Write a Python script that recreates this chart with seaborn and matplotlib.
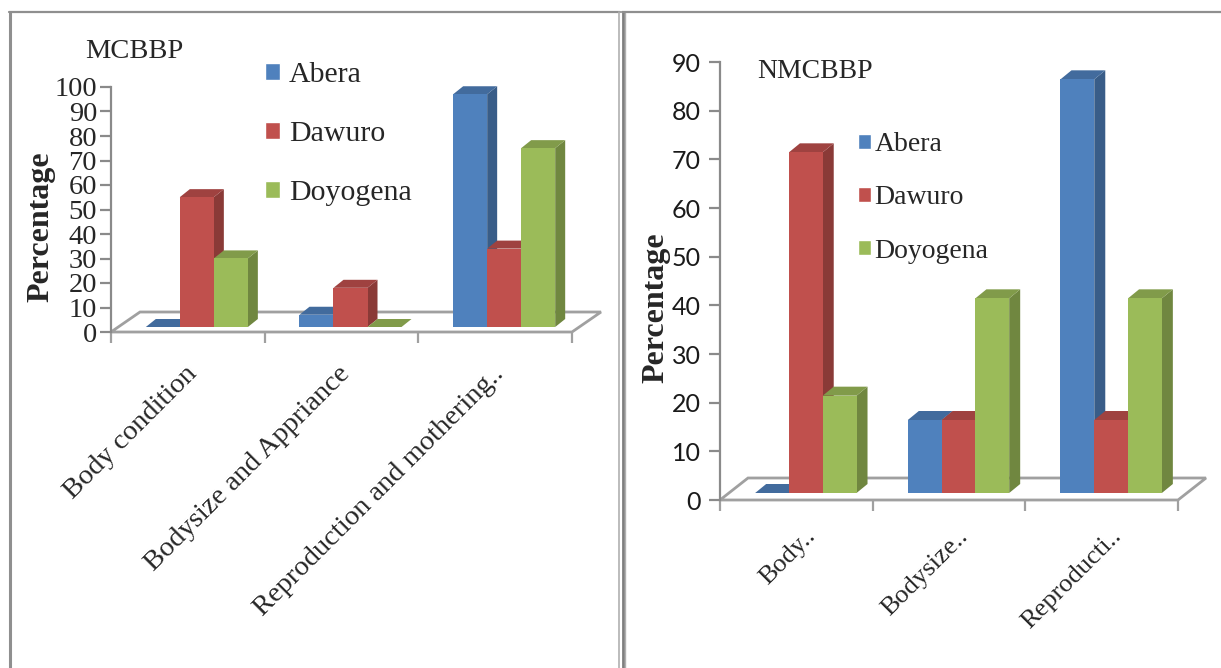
import matplotlib
matplotlib.use("Agg")
import numpy as np
import pandas as pd
import matplotlib.pyplot as plt
import matplotlib.colors as mcolors
import seaborn as sns
from matplotlib.patches import Polygon, Patch
from matplotlib.lines import Line2D
from matplotlib.transforms import ScaledTranslation

# ---- data -----------------------------------------------------------------
breeds = ["Abera", "Dawuro", "Doyogena"]
traits = ["Body condition", "Bodysize and Appriance", "Reproduction and mothering ability"]
mc_ticklabels = ["Body condition", "Bodysize and Appriance", "Reproduction and mothering.."]
nm_ticklabels = ["Body..", "Bodysize..", "Reproducti.."]

mc_abera = [0, 5, 95]
mc_dawuro = [53, 16, 32]
mc_doyogena = [28, 0, 73]

nm_abera = [0, 15, 85]
nm_dawuro = [70, 15, 15]
nm_doyogena = [20, 40, 40]

colors = ["#4F81BD", "#C0504D", "#9BBB59"]

W, H, DPI = 1221, 668, 100
SERIF = "Liberation Serif"


def long_table(a, d, g):
    rows = []
    for breed, vals in zip(breeds, [a, d, g]):
        for t, v in zip(traits, vals):
            rows.append({"trait": t, "breed": breed, "pct": v})
    return pd.DataFrame(rows)


def shade(c, f):
    r, g, b = mcolors.to_rgb(c)
    return (r * f, g * f, b * f)


sns.set_style("white")
plt.rcParams["font.family"] = [SERIF, "DejaVu Sans"]

fig = plt.figure(figsize=(W / DPI, H / DPI), dpi=DPI)
fig.patch.set_facecolor("white")


def px_axes(x0, x1, ytop, ybot):
    return fig.add_axes([x0 / W, 1 - ybot / H, (x1 - x0) / W, (ybot - ytop) / H])


def draw_panel(ax, df, ymax, ystep, wpx, hpx, floor, front, depth):
    ux = wpx / 3.0          # pixels per category unit
    uy = hpx / ymax         # pixels per percentage point
    sns.barplot(data=df, x="trait", y="pct", hue="breed", order=traits,
                hue_order=breeds, palette=colors, saturation=1, width=0.664,
                gap=0, linewidth=0, legend=False, ax=ax, errorbar=None)
    ax.set_xlim(-0.5, 2.5)
    ax.set_ylim(0, ymax)
    bars = sorted(list(ax.patches), key=lambda p: p.get_x())

    fx, fy = front[0] / ux, front[1] / uy
    dx, dy = depth[0] / ux, depth[1] / uy
    shift = ScaledTranslation(front[0] / DPI, front[1] / DPI, fig.dpi_scale_trans)
    for k, p in enumerate(bars):
        col = mcolors.to_rgb(p.get_facecolor())
        z = 3 + k * 0.01
        p.set_transform(ax.transData + shift)
        p.set_zorder(z + 0.005)
        xl = p.get_x() + fx
        xr = p.get_x() + p.get_width() + fx
        h = p.get_height()
        side = [(xr, fy), (xr, h + fy), (xr + dx, h + fy + dy), (xr + dx, fy + dy)]
        top = [(xl, h + fy), (xr, h + fy), (xr + dx, h + fy + dy), (xl + dx, h + fy + dy)]
        ax.add_patch(Polygon(side, closed=True, facecolor=shade(col, 0.72),
                             edgecolor="none", zorder=z, clip_on=False))
        ax.add_patch(Polygon(top, closed=True, facecolor=shade(col, 0.83),
                             edgecolor="none", zorder=z, clip_on=False))

    Fx, Fy = floor[0] / ux, floor[1] / uy
    ax.add_patch(Polygon([(-0.5, 0), (2.5, 0), (2.5 + Fx, Fy), (-0.5 + Fx, Fy)],
                         closed=True, facecolor="white", edgecolor="#a0a0a0",
                         linewidth=2, zorder=1, clip_on=False))

    for s in ["top", "right", "bottom"]:
        ax.spines[s].set_visible(False)
    ax.spines["left"].set_color("#8a8a8a")
    ax.spines["left"].set_linewidth(1.6)
    ax.set_facecolor("none")
    ax.set_yticks(np.arange(0, ymax + 0.1, ystep))
    ax.set_xticks([0, 1, 2])
    ax.set_xticklabels([])
    ax.set_xticks([-0.5, 0.5, 1.5, 2.5], minor=True)
    ax.tick_params(axis="x", which="major", length=0)
    ax.tick_params(axis="x", which="minor", length=8, width=1.6, color="#a0a0a0",
                   direction="out", bottom=True)
    ax.tick_params(axis="y", which="major", length=8, width=1.6, color="#8a8a8a",
                   direction="out", left=True)
    ax.set_xlabel("")
    ax.set_ylabel("")


# ---- left panel: MCBBP ----------------------------------------------------
ax1 = px_axes(111, 572, 87, 332)
draw_panel(ax1, long_table(mc_abera, mc_dawuro, mc_doyogena), 100, 10,
           572 - 111, 332 - 87, floor=(29, 20), front=(9, 5), depth=(10, 8))
for lab in ax1.get_yticklabels():
    lab.set_fontfamily(SERIF)
    lab.set_fontsize(20.5)
ax1.tick_params(axis="y", pad=2)
for i, t in enumerate(mc_ticklabels):
    ax1.annotate(t, xy=(i, 0), xycoords="data", xytext=(5, -38),
                 textcoords="offset pixels", ha="right", va="center",
                 rotation=45, rotation_mode="anchor", fontsize=20.5,
                 family=SERIF, annotation_clip=False)
ax1.legend([Patch(facecolor=c) for c in colors], breeds,
           loc="upper left", bbox_to_anchor=(265 / W, 1 - 62 / H),
           bbox_transform=fig.transFigure, frameon=False,
           prop={"family": SERIF, "size": 21.5}, handlelength=0.5,
           handleheight=0.5, handletextpad=0.3, labelspacing=1.1,
           borderpad=0, borderaxespad=0)
fig.text(85, H - 52, "MCBBP", transform=None, fontsize=20.5, family=SERIF,
         va="center", ha="left")
fig.text(41, H - 227, "Percentage", transform=None, fontsize=23, family=SERIF,
         fontweight="bold", rotation=90, va="center", ha="center")

# ---- right panel: NMCBBP --------------------------------------------------
ax2 = px_axes(720, 1178, 62, 500)
draw_panel(ax2, long_table(nm_abera, nm_dawuro, nm_doyogena), 90, 10,
           1178 - 720, 500 - 62, floor=(28, 22), front=(9.5, 7), depth=(11, 9))
for lab in ax2.get_yticklabels():
    lab.set_fontfamily(["Lato", "DejaVu Sans"])
    lab.set_fontsize(18)
    lab.set_color("#1a1a1a")
ax2.tick_params(axis="y", pad=6)
for i, t in enumerate(nm_ticklabels):
    ax2.annotate(t, xy=(i, 0), xycoords="data", xytext=(16, -33),
                 textcoords="offset pixels", ha="right", va="center",
                 rotation=45, rotation_mode="anchor", fontsize=19,
                 family=SERIF, annotation_clip=False)
ax2.legend([Patch(facecolor=c) for c in colors], breeds,
           loc="upper left", bbox_to_anchor=(858 / W, 1 - 132 / H),
           bbox_transform=fig.transFigure, frameon=False,
           prop={"family": SERIF, "size": 20}, handlelength=0.45,
           handleheight=0.45, handletextpad=0.15, labelspacing=1.02,
           borderpad=0, borderaxespad=0)
fig.text(757, H - 72, "NMCBBP", transform=None, fontsize=20, family=SERIF,
         va="center", ha="left")
fig.text(656, H - 308, "Percentage", transform=None, fontsize=23, family=SERIF,
         fontweight="bold", rotation=90, va="center", ha="center")

# ---- panel frames ---------------------------------------------------------
def frame_line(xs, ys, color, lw):
    fig.add_artist(Line2D(np.array(xs) / W, 1 - np.array(ys) / H,
                          transform=fig.transFigure, color=color, linewidth=lw))

frame_line([9.5, 9.5], [11.5, 668], "#8f8f8f", 2.2)
frame_line([8.5, 620], [11.8, 11.8], "#8f8f8f", 1.6)
frame_line([619, 619], [11.5, 668], "#b0b0b0", 1.2)
frame_line([622.5, 622.5], [11.5, 668], "#7f7f7f", 2.0)
frame_line([624.5, 624.5], [13, 668], "#b0b0b0", 1.0)
frame_line([622, 1221], [11.8, 11.8], "#8f8f8f", 1.6)

fig.savefig("out.png", dpi=DPI, facecolor="white")
